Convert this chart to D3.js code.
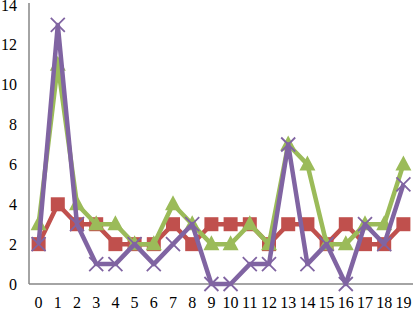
<!DOCTYPE html>
<html>
<head>
<meta charset="utf-8">
<script src="https://cdn.jsdelivr.net/npm/d3@7.9.0/dist/d3.min.js"></script>
<style>
  html, body { margin: 0; padding: 0; background: #fff; }
  svg { display: block; }
</style>
</head>
<body>
<div id="chart"></div>
<script>
const categories = d3.range(20).map(String);
const yTicks = [0, 2, 4, 6, 8, 10, 12, 14];

const redValues    = [2, 4, 3, 3, 2, 2, 2, 3, 2, 3, 3, 3, 2, 3, 3, 2, 3, 2, 2, 3];
const greenValues  = [3, 11, 4, 3, 3, 2, 2, 4, 3, 2, 2, 3, 2, 7, 6, 2, 2, 3, 3, 6];
const purpleValues = [2, 13, 3, 1, 1, 2, 1, 2, 3, 0, 0, 1, 1, 7, 1, 2, 0, 3, 2, 5];

const series = [
  { name: 'red', values: redValues, color: '#C0504D', marker: 'square' },
  { name: 'green', values: greenValues, color: '#9BBB59', marker: 'triangle' },
  { name: 'purple', values: purpleValues, color: '#8064A2', marker: 'cross' },
];

const width = 413, height = 311;
const plot = { left: 29, right: 413, top: 5, bottom: 284 };
const fontFamily = "'Liberation Serif', 'DejaVu Serif', serif";

const svg = d3.select('#chart').append('svg')
  .attr('width', width).attr('height', height);

const x = d3.scaleBand().domain(categories).range([plot.left, plot.right]);
const y = d3.scaleLinear().domain([0, 14]).range([plot.bottom, plot.top]);
const cx = d => x(d) + x.bandwidth() / 2;

// axes
svg.append('line')
  .attr('x1', plot.left).attr('x2', plot.left)
  .attr('y1', plot.top - 2).attr('y2', plot.bottom)
  .attr('stroke', '#868686').attr('stroke-width', 1.5);
svg.append('line')
  .attr('x1', plot.left).attr('x2', plot.right)
  .attr('y1', plot.bottom).attr('y2', plot.bottom)
  .attr('stroke', '#868686').attr('stroke-width', 1.5);

svg.append('g').selectAll('text')
  .data(yTicks).join('text')
  .attr('x', 17).attr('y', d => y(d))
  .attr('dy', '0.35em')
  .attr('text-anchor', 'end')
  .attr('font-family', fontFamily).attr('font-size', 16)
  .text(d => d);

svg.append('g').selectAll('text')
  .data(categories).join('text')
  .attr('x', d => cx(d)).attr('y', 308)
  .attr('text-anchor', 'middle')
  .attr('font-family', fontFamily).attr('font-size', 16)
  .text(d => d);

const line = d3.line()
  .x((d, i) => cx(categories[i]))
  .y(d => y(d));

for (const s of series) {
  const g = svg.append('g');
  g.append('path')
    .datum(s.values)
    .attr('d', line)
    .attr('fill', 'none')
    .attr('stroke', s.color)
    .attr('stroke-width', 4.5)
    .attr('stroke-linejoin', 'round');

  const pts = g.selectAll('g.pt')
    .data(s.values).join('g')
    .attr('transform', (d, i) => `translate(${cx(categories[i])},${y(d)})`);

  if (s.marker === 'square') {
    pts.append('rect')
      .attr('x', -7).attr('y', -7).attr('width', 14).attr('height', 14)
      .attr('fill', s.color);
  } else if (s.marker === 'triangle') {
    pts.append('path')
      .attr('d', 'M0,-9L8,6L-8,6Z')
      .attr('fill', s.color);
  } else {
    pts.append('path')
      .attr('d', 'M-7,-7L7,7M-7,7L7,-7')
      .attr('stroke', s.color)
      .attr('stroke-width', 1.8)
      .attr('fill', 'none');
  }
}
</script>
</body>
</html>
